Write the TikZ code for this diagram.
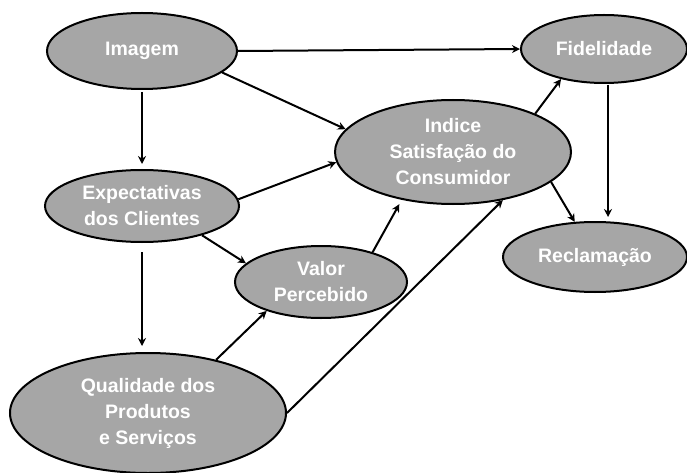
\documentclass[tikz,border=0pt]{standalone}
\usepackage{fontspec}
\setmainfont{Liberation Sans}
\usetikzlibrary{shapes.geometric,arrows.meta}
\definecolor{elgray}{RGB}{166,166,166}

\begin{document}
\begin{tikzpicture}[x=1pt,y=-1pt,
	bloco/.style={ellipse, draw=black, line width=2pt, fill=elgray, inner sep=0pt,
		text=white, align=center, font=\fontsize{19.5}{26}\selectfont\bfseries},
	seta/.style={-{Stealth[length=8pt,width=8pt]}, line width=2pt}]
				\useasboundingbox (0,0) rectangle (687,473);
				% elipses
				\node[bloco, minimum width=190pt, minimum height=76pt] (img) at (142,51) {Imagem};
				\node[bloco, minimum width=166pt, minimum height=68pt] (fid) at (604,49) {Fidelidade};
				\node[bloco, minimum width=236pt, minimum height=104pt] (ind) at (453,152) {Indice\\Satisfação do\\Consumidor};
				\node[bloco, minimum width=184pt, minimum height=70pt] (rec) at (595,257) {Reclamação};
				\node[bloco, minimum width=194pt, minimum height=72pt] (exp) at (142,206) {Expectativas\\dos Clientes};
				\node[bloco, minimum width=172pt, minimum height=72pt] (val) at (321,282) {Valor\\Percebido};
				\node[bloco, minimum width=276pt, minimum height=120pt] (qual) at (148,413) {Qualidade dos\\Produtos\\e Serviços};
				
				% setas
				\draw[seta] (img.east) -- (fid.west);
				\draw[seta] (img.-15) -- (ind.168);
				\draw[seta, shorten <=2pt, shorten >=5pt] (img.south) -- (exp.north);
				\draw[seta] (exp.4) -- (ind.185);
				\draw[seta] (exp.-26) -- (val.166);
				\draw[seta, shorten <=9pt, shorten >=6pt] (exp.south) -- (exp.south |- qual.north);
				\draw[seta] (qual.38) -- (val.208);
				\draw[seta] (qual.east) -- (ind.-44);
				\draw[seta, shorten >=5pt] (val.30) -- (ind.223);
				\draw[seta] (ind.25) -- (fid.215);
				\draw[seta] (ind.-17) -- (rec.120);
				\draw[seta, shorten <=1pt, shorten >=4pt] ([xshift=4pt]fid.south) -- ([xshift=4pt]fid.south |- rec.north);
			\end{tikzpicture}
\end{document}
